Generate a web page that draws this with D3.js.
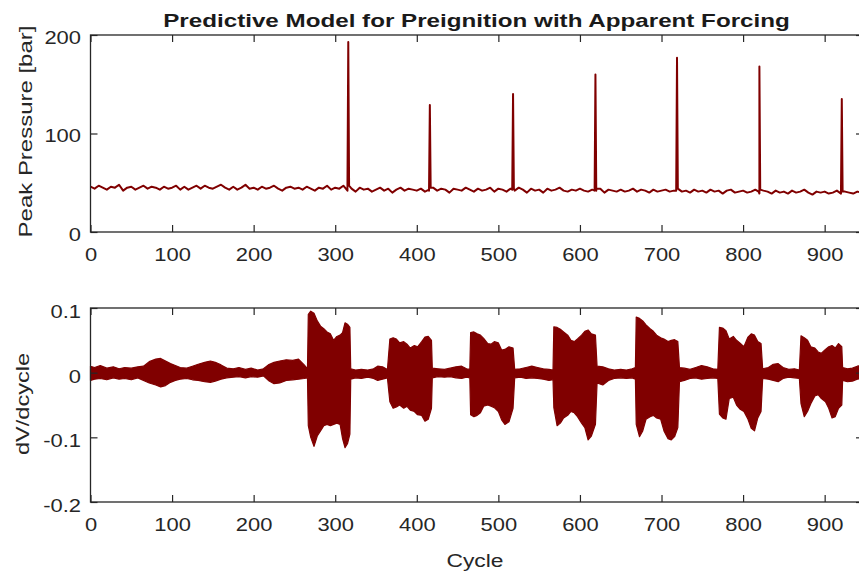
<!DOCTYPE html>
<html><head><meta charset="utf-8">
<script src="https://cdn.jsdelivr.net/npm/d3@7"></script>
<style>
body{margin:0;background:#fff}
svg{display:block}
text{font-family:"Liberation Sans",Arial,Helvetica,sans-serif}
</style>
</head><body>
<svg id="c" width="859" height="571"></svg>
<script>
// ---------- data ----------
const titleText = "Predictive Model for Preignition with Apparent Forcing";
const xLabelText = "Cycle";
const topYLabelText = "Peak Pressure [bar]";
const botYLabelText = "dV/dcycle";
const xTicks = [0,100,200,300,400,500,600,700,800,900];
const pressureTicks = [0,100,200];
const dvTicks = [0.1,0,-0.1,-0.2];
const dvTickLabels = ["0.1","0","-0.1","-0.2"];

// peak pressure baseline, one value every 5 cycles (cycle 0..945)
const baselinePressure = [
46,44,47,45,43,46,45,48,42,45,
46,43,45,47,44,46,45,43,46,44,
45,47,43,46,43,45,47,44,47,45,
44,46,48,45,43,46,43,45,48,44,
45,43,46,44,45,47,44,42,45,46,
44,45,43,46,44,42,45,44,47,43,
45,44,47,42,44,41,45,43,44,41,
43,45,42,44,40,43,45,42,44,43,
42,44,41,43,45,42,44,43,40,44,
43,42,45,43,41,44,42,43,45,41,
44,43,41,44,42,45,43,40,44,42,
43,40,44,42,43,45,42,41,43,42,
44,42,41,43,42,44,40,43,42,41,
43,41,42,44,41,43,42,40,43,41,
42,43,41,42,44,41,42,40,43,41,
42,40,43,41,42,39,42,43,40,41,
42,40,41,43,39,42,41,39,42,40,
41,39,42,40,41,43,40,38,41,40,
41,39,40,42,39,41,40,39,41,40
];
const spikeCycles   = [316,416,518,619,719,820,921];
const spikePressure = [193,129,140,160,177,168,135];
const spikePre      = [44,42,43,42,42,41,40];
const spikePost     = [47,45,44,44,44,43,41];

// dV/dcycle band envelope
const envCycles = [0,5,12,20,28,35,42,50,58,65,72,80,86,92,98,104,110,118,125,132,140,147,153,160,167,175,182,190,197,205,212,218,225,232,240,248,255,262,266,
267,270,274,278,282,286,290,294,298,302,306,309,312,315,318,
319,325,332,340,347,352,358,364,
367,371,375,379,384,388,392,397,401,406,410,414,418,
419,426,434,441,448,455,461,465,
466,470,474,478,482,487,491,495,500,504,508,513,518,
520,527,534,541,548,555,562,567,
568,572,576,580,585,589,593,597,602,606,610,614,619,
621,628,635,642,650,657,664,668,
669,673,677,681,686,690,694,699,703,708,712,716,720,
722,728,735,742,749,756,763,769,
771,775,779,783,788,792,796,801,806,810,814,818,822,
824,831,837,843,849,856,863,869,
871,875,879,883,888,892,896,901,905,909,913,917,921,
922,928,934,940,946];
const envUpper = [.010,.008,.011,.007,.009,.006,.008,.007,.009,.010,.017,.021,.022,.018,.014,.011,.008,.007,.010,.013,.016,.018,.016,.012,.007,.006,.008,.005,.007,.004,.006,.012,.016,.018,.020,.019,.021,.012,.006,
.090,.095,.092,.080,.072,.068,.063,.060,.050,.056,.058,.062,.077,.075,.070,
.006,.004,.005,.004,.006,.010,.009,.005,
.052,.054,.052,.046,.048,.044,.038,.042,.040,.048,.055,.056,.050,
.007,.006,.005,.007,.009,.010,.006,.005,
.062,.063,.060,.058,.053,.045,.044,.048,.046,.035,.036,.040,.038,
.005,.006,.008,.010,.008,.006,.005,.004,
.071,.070,.067,.063,.058,.050,.048,.052,.058,.064,.066,.060,.058,
.010,.009,.006,.004,.005,.004,.006,.008,
.086,.084,.080,.074,.068,.064,.058,.054,.052,.048,.050,.051,.048,
.008,.007,.005,.008,.011,.009,.006,.005,
.070,.069,.065,.052,.056,.050,.046,.040,.055,.060,.058,.048,.045,
.006,.008,.013,.014,.008,.005,.006,.004,
.057,.054,.050,.040,.038,.032,.030,.036,.040,.042,.038,.045,.040,
.008,.006,.007,.010,.012];
const envLower = [-.012,-.010,-.009,-.011,-.008,-.010,-.009,-.011,-.008,-.012,-.016,-.019,-.022,-.020,-.015,-.012,-.010,-.009,-.011,-.012,-.014,-.015,-.013,-.010,-.008,-.007,-.006,-.008,-.006,-.007,-.005,-.012,-.017,-.016,-.012,-.011,-.010,-.009,-.008,
-.082,-.100,-.114,-.098,-.090,-.082,-.080,-.082,-.080,-.078,-.080,-.102,-.116,-.110,-.095,
-.010,-.008,-.009,-.007,-.009,-.012,-.010,-.008,
-.045,-.055,-.053,-.050,-.055,-.052,-.058,-.060,-.065,-.066,-.075,-.072,-.055,
-.008,-.006,-.007,-.006,-.008,-.009,-.007,-.008,
-.065,-.068,-.066,-.062,-.052,-.050,-.052,-.054,-.060,-.073,-.080,-.076,-.055,
-.008,-.007,-.009,-.008,-.009,-.010,-.012,-.011,
-.054,-.082,-.078,-.070,-.066,-.060,-.062,-.068,-.078,-.085,-.104,-.098,-.080,
-.016,-.019,-.012,-.009,-.008,-.009,-.008,-.010,
-.080,-.099,-.090,-.072,-.068,-.066,-.070,-.072,-.090,-.102,-.104,-.099,-.085,
-.014,-.012,-.009,-.008,-.010,-.009,-.008,-.009,
-.064,-.070,-.072,-.040,-.038,-.050,-.056,-.060,-.072,-.086,-.090,-.070,-.060,
-.009,-.010,-.012,-.014,-.009,-.007,-.008,-.009,
-.048,-.068,-.060,-.048,-.036,-.034,-.040,-.045,-.055,-.070,-.068,-.055,-.050,
-.012,-.014,-.013,-.010,-.009];

// ---------- layout ----------
const svg = d3.select("#c");
const LINE = "#800000";
const INK = "#262626";
const FS = 18;
const TICK_K = 1.22;

const x = d3.scaleLinear().domain([0, 947]).range([90.5, 863]);
const yP = d3.scaleLinear().domain([0, 200]).range([232, 35]);
const yD = d3.scaleLinear().domain([-0.2, 0.1]).range([502, 308]);

function stretchText(sel, k) {
  sel.each(function () {
    const t = d3.select(this);
    const tx = +t.attr("x") || 0, ty = +t.attr("y") || 0;
    t.attr("x", 0).attr("y", 0).attr("dy", null)
     .attr("transform", `translate(${tx},${ty}) scale(${k},1)`);
  });
}

function drawAxes(yScale, ticks, fmt, labelDy) {
  const [bottom, top] = yScale.range();
  const [left, right] = x.range();
  const style = g => {
    g.attr("font-size", null).attr("font-family", null);
    g.select(".domain").remove();
    g.selectAll(".tick line").attr("stroke", INK).attr("stroke-width", 1.2);
    g.selectAll("text").attr("fill", INK).style("font-size", FS + "px");
  };
  const gB = svg.append("g").attr("transform", `translate(0,${bottom})`)
    .call(d3.axisBottom(x).tickValues(xTicks).tickFormat(d3.format("d")).tickSizeInner(-7).tickSizeOuter(0).tickPadding(0))
    .call(style);
  gB.selectAll("text").attr("y", 29);
  stretchText(gB.selectAll("text"), TICK_K);

  svg.append("g").attr("transform", `translate(0,${top})`)
    .call(d3.axisTop(x).tickValues(xTicks).tickFormat("").tickSizeInner(-7).tickSizeOuter(0))
    .call(style);

  const gL = svg.append("g").attr("transform", `translate(${left},0)`)
    .call(d3.axisLeft(yScale).tickValues(ticks).tickFormat(fmt).tickSizeInner(-7).tickSizeOuter(0).tickPadding(9.5))
    .call(style);
  gL.selectAll("text").attr("y", labelDy);
  stretchText(gL.selectAll("text"), TICK_K);

  svg.append("g").attr("transform", `translate(${right},0)`)
    .call(d3.axisRight(yScale).tickValues(ticks).tickFormat("").tickSizeInner(-7).tickSizeOuter(0))
    .call(style);

  svg.append("rect").attr("x", left).attr("y", top)
    .attr("width", right - left).attr("height", bottom - top)
    .attr("fill", "none").attr("stroke", INK).attr("stroke-width", 1.3);
}

// ---------- top panel: peak pressure ----------
const topPts = baselinePressure.map((v, i) => [i * 5, v]);
spikeCycles.forEach((c, i) => {
  topPts.push([c - 1, spikePre[i]], [c, spikePressure[i]], [c + 1, spikePost[i]]);
});
topPts.sort((a, b) => a[0] - b[0]);

svg.append("clipPath").attr("id", "clipTopData").append("rect")
  .attr("x", 90.5).attr("y", 35).attr("width", 772.5).attr("height", 197);
svg.append("path")
  .datum(topPts)
  .attr("clip-path", "url(#clipTopData)")
  .attr("fill", "none").attr("stroke", LINE).attr("stroke-width", 2)
  .attr("stroke-linejoin", "round")
  .attr("d", d3.line().x(d => x(d[0])).y(d => yP(d[1])));

drawAxes(yP, pressureTicks, d3.format("d"), 8);

// ---------- bottom panel: dV/dcycle ----------
const band = envCycles.map((c, i) => ({c, up: envUpper[i], lo: envLower[i]}));
svg.append("path")
  .datum(band)
  .attr("fill", LINE).attr("stroke", LINE).attr("stroke-width", 1.2)
  .attr("stroke-linejoin", "round")
  .attr("d", d3.area().x(d => x(d.c)).y0(d => yD(d.lo)).y1(d => yD(d.up)));

drawAxes(yD, dvTicks, (d, i) => dvTickLabels[i], 9.5);

// ---------- titles / labels ----------
function fitText(t, target) {
  const w = t.node().getComputedTextLength();
  return target / w;
}
const title = svg.append("text").attr("text-anchor", "middle")
  .attr("font-weight", "bold").style("font-size", FS + "px").attr("fill", "#1a1a1a").text(titleText);
title.attr("transform", `translate(476.5,26.5) scale(${fitText(title, 627)},1)`);

const yl1 = svg.append("text").attr("text-anchor", "middle")
  .style("font-size", FS + "px").attr("fill", INK).text(topYLabelText);
yl1.attr("transform", `translate(32,131.5) rotate(-90) scale(${fitText(yl1, 212)},1)`);

const yl2 = svg.append("text").attr("text-anchor", "middle")
  .style("font-size", FS + "px").attr("fill", INK).text(botYLabelText);
yl2.attr("transform", `translate(28.5,404) rotate(-90) scale(${fitText(yl2, 102)},1)`);

const xl = svg.append("text").attr("text-anchor", "middle")
  .style("font-size", FS + "px").attr("fill", INK).text(xLabelText);
xl.attr("transform", `translate(475,567) scale(${fitText(xl, 57)},1)`);
</script>
</body></html>
